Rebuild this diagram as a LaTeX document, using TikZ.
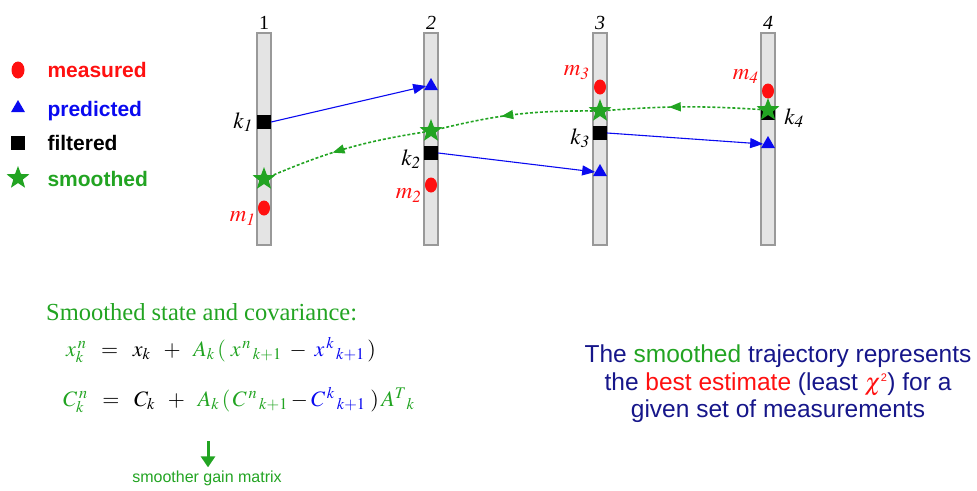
\documentclass[tikz,border=0pt]{standalone}
\usepackage{mathptmx}
\usepackage{fontspec}
\setmainfont{Liberation Serif}
\setsansfont{Liberation Sans}
\usepackage{xcolor}
\definecolor{kgreen}{HTML}{22A422}
\definecolor{kred}{HTML}{FF1010}
\definecolor{kblue}{HTML}{0A0AF0}
\definecolor{knavy}{HTML}{16168A}
\definecolor{planegray}{HTML}{E4E4E4}
\usetikzlibrary{shapes.geometric, arrows.meta, positioning, decorations.markings}

\begin{document}
\begin{tikzpicture}[x=1pt, y=1pt,
  planebar/.style={rectangle, draw=gray!80, fill=planegray, line width=1.1pt,
    minimum width=14pt, minimum height=212pt, inner sep=0pt},
  measdot/.style={ellipse, fill=kred, minimum width=12pt, minimum height=15pt, inner sep=0pt},
  predtri/.style={regular polygon, regular polygon sides=3, fill=kblue, minimum size=16pt, inner sep=0pt},
  filtsq/.style={rectangle, fill=black, minimum size=14pt, inner sep=0pt},
  smoostar/.style={star, star points=5, star point ratio=2.4, fill=kgreen, minimum size=24pt, inner sep=0pt},
  planenum/.style={font=\fontsize{20}{22}\selectfont, inner sep=1pt},
  klabel/.style={font=\fontsize{23}{25}\selectfont, inner sep=1pt},
  lgtext/.style={font=\fontsize{21}{24}\selectfont\sffamily\bfseries, text height=1.6ex, text depth=0.3ex, yshift=-5pt},
  predarrow/.style={-{Triangle[length=13pt, width=10pt]}, line width=1.1pt, kblue},
  smoothback/.style={kgreen, line width=1.6pt, dash pattern=on 3pt off 2pt,
    decoration={markings, mark=at position 0.6 with {\arrow{Triangle[length=12pt, width=9pt]}}},
    postaction={decorate}},
  eqn/.style={font=\fontsize{22}{25}\selectfont, inner sep=0pt, anchor=base west}
]
\useasboundingbox (0,0) rectangle (977,-490);

% legend
\node[measdot, minimum width=13pt, minimum height=17pt] (lm) at (18,-70) {};
\node[predtri] (lp) at (18,-108) {};
\node[filtsq] (lf) at (18,-143) {};
\node[smoostar] (ls) at (18,-178) {};
\node[lgtext, text=kred, right=26pt of lm.center] (lmt) {measured};
\node[lgtext, text=kblue, right=26pt of lp.center, yshift=-1pt] (lpt) {predicted};
\node[lgtext, right=26pt of lf.center] (lft) {filtered};
\node[lgtext, text=kgreen, right=26pt of ls.center, yshift=-1pt] (lst) {smoothed};

% detector planes
\node[planebar] (pl1) at (264,-139) {};
\node[planebar] (pl2) at (431,-139) {};
\node[planebar] (pl3) at (600,-139) {};
\node[planebar] (pl4) at (768,-139) {};
\node[planenum, above=2pt of pl1] {1};
\node[planenum, above=2pt of pl2] {\textit{2}};
\node[planenum, above=2pt of pl3] {\textit{3}};
\node[planenum, above=2pt of pl4] {\textit{4}};

% hits on the planes
\node[filtsq] (f1) at (264,-122) {};
\node[smoostar] (s1) at (264,-179) {};
\node[measdot] (m1) at (264,-208) {};
\node[predtri] (p2) at (431,-86) {};
\node[smoostar] (s2) at (431,-131) {};
\node[filtsq] (f2) at (431,-153) {};
\node[measdot] (m2) at (431,-185) {};
\node[measdot] (m3) at (600,-87) {};
\node[smoostar] (s3) at (600,-111) {};
\node[filtsq] (f3) at (600,-133) {};
\node[predtri] (p3) at (600,-172) {};
\node[measdot] (m4) at (768,-91) {};
\node[filtsq] (f4) at (768,-113) {};
\node[smoostar] (s4) at (768,-110) {};
\node[predtri] (p4) at (768,-144) {};

\node[klabel, left=3pt of f1] {$k_{\mathit 1}$};
\node[klabel, left=2pt of f2, yshift=-6pt] {$k_{\mathit 2}$};
\node[klabel, left=2pt of f3, yshift=-5pt] {$k_{\mathit 3}$};
\node[klabel, right=8pt of f4, yshift=-5pt] {$k_{\mathit 4}$};
\node[klabel, text=kred, below left=-3pt and 3pt of m1] {$m_{\mathit 1}$};
\node[klabel, text=kred, below left=-3pt and 4pt of m2] {$m_{\mathit 2}$};
\node[klabel, text=kred, above left=1pt and 5pt of m3] {$m_{\mathit 3}$};
\node[klabel, text=kred, above left=1pt and 4pt of m4] {$m_{\mathit 4}$};

% filter steps
\draw[predarrow] (f1.east) -- (p2.west);
\draw[predarrow] (f2.east) -- (p3.west);
\draw[predarrow] (f3.east) -- (p4.west);

% smoother pass backwards
\draw[smoothback] (s4) to[bend right=4] (s3);
\draw[smoothback] (s3) to[bend right=7] (s2);
\draw[smoothback] (s2) to[bend right=7] (s1);

% formulas
\node[font=\fontsize{24.5}{28}\selectfont, text=kgreen, inner sep=0pt, anchor=base west] (title) at (46,-320)
  {Smoothed state and covariance:};
\node[eqn] (eq1) at (66,-356)
  {${\color{kgreen}x_k^{\,n}}\;\;=\;\; x_k \;\;+\;\; {\color{kgreen}A_k\,(\;x^{\,n}{}_{\,k+1}}\; - \;{\color{kblue}x^{\,k}{}_{\,k+1}}\,)$};
\node[eqn] (eq2) at (63,-406)
  {${\color{kgreen}C_k^{\,n}}\;\;=\;\; C_k \;\;+\;\; {\color{kgreen}A_k\,(\,C^{\,n}{}_{\,k+1}} - {\color{kblue}C^{\,k}{}_{\,k+1}}\;)\,{\color{kgreen}A^T{}_k}$};
\coordinate (gtop) at (208,-441);
\node[font=\fontsize{16}{18}\selectfont\sffamily, text=kgreen, inner sep=3pt] (gain) at (207,-478) {smoother gain matrix};
\draw[-{Triangle[length=11pt, width=14pt]}, line width=3pt, kgreen] (gtop) -- (gtop |- gain.north);

% summary
\node[font=\fontsize{24.5}{27.5}\selectfont\sffamily, text=knavy, align=center] (summary) at (778,-384)
  {The {\color{kgreen}smoothed} trajectory represents\\
   the {\color{kred}best estimate} (least {\color{kred}$\chi$\textsuperscript{\fontsize{11}{11}\selectfont 2}}) for a\\
   given set of measurements};
\end{tikzpicture}
\end{document}
